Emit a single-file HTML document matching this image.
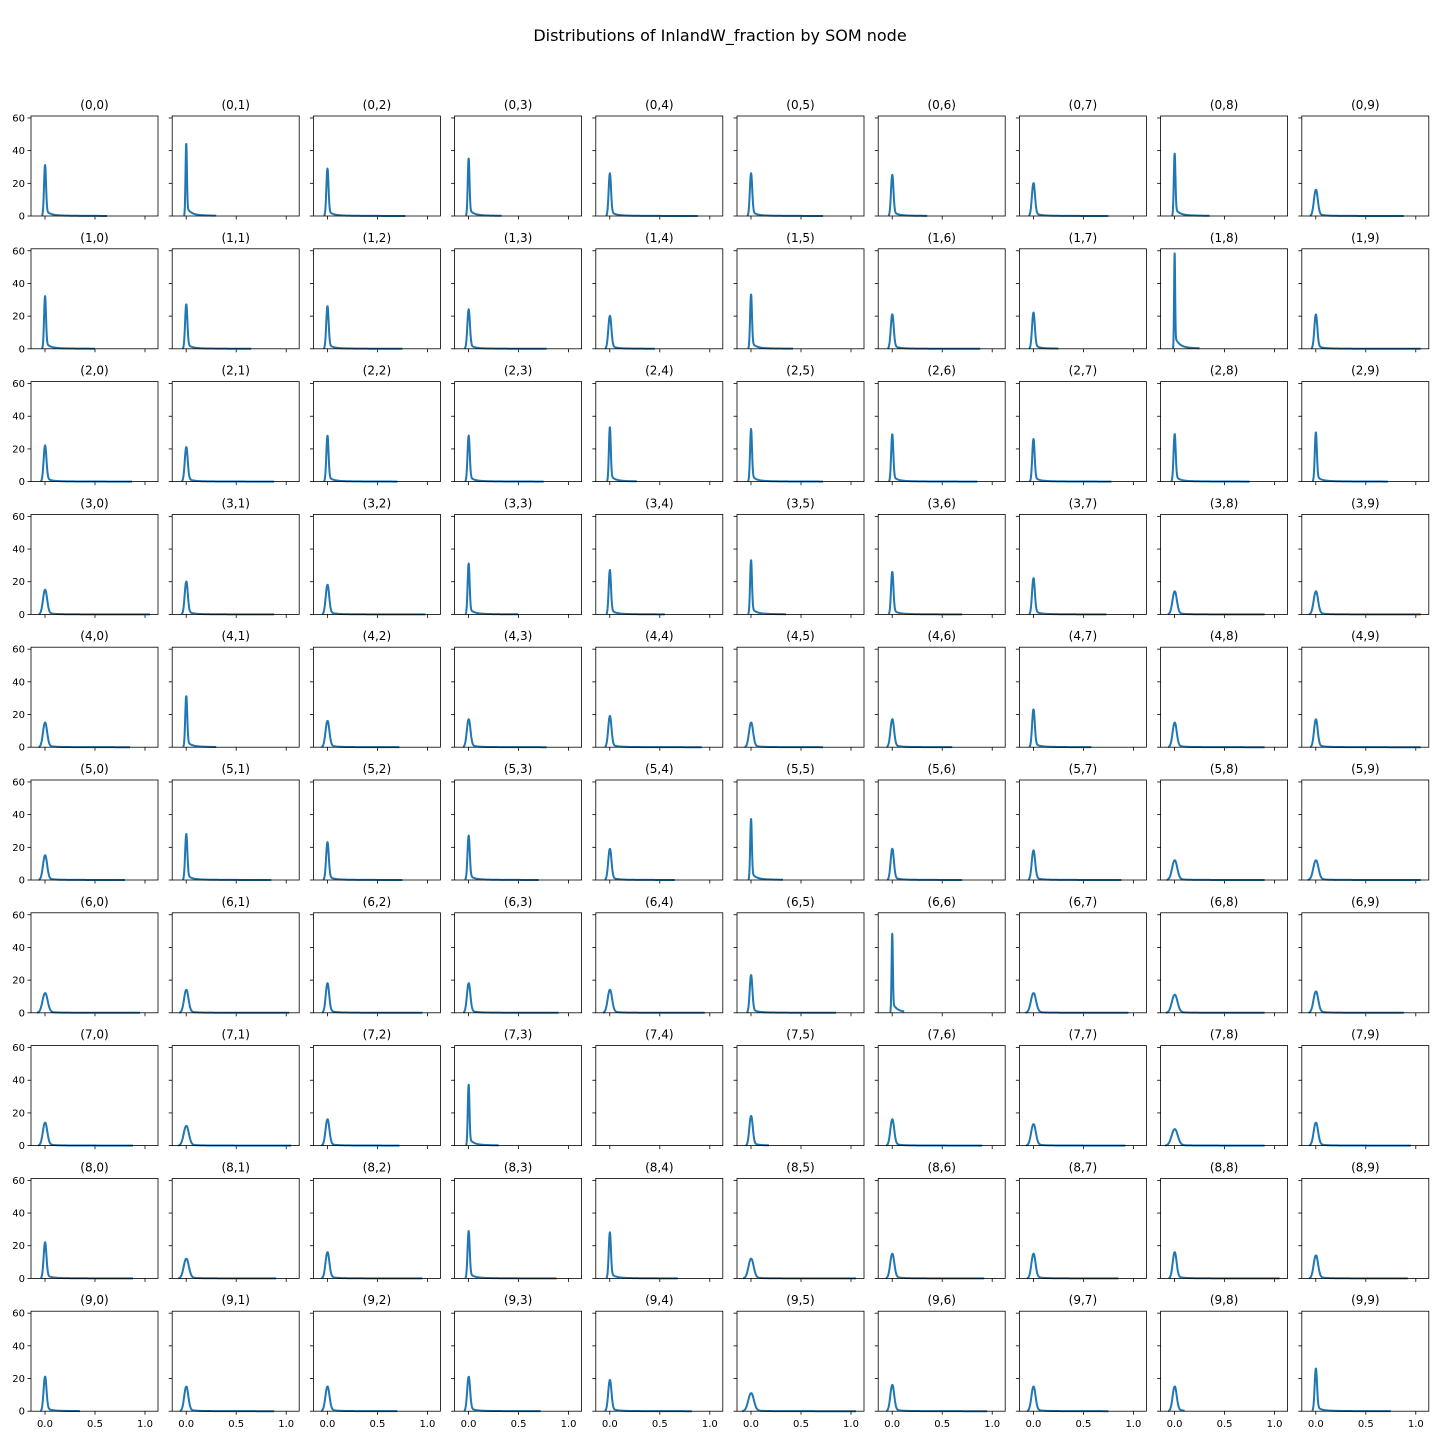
<!DOCTYPE html>
<html><head><meta charset="utf-8"><style>
body{margin:0;background:#fff;}
svg text{font-family:"DejaVu Sans","Liberation Sans",sans-serif;}
</style></head><body>
<svg id="fig" width="1440" height="1440" xmlns="http://www.w3.org/2000/svg">
<rect width="1440" height="1440" fill="#fff"/>
<text x="720" y="41" text-anchor="middle" font-size="16" fill="#000">Distributions of InlandW_fraction by SOM node</text>
</svg>
<script>
const peaks = [
 [31,44,29,35,26,26,25,20,38,16],
 [32,27,26,24,20,33,21,22,58,21],
 [22,21,28,28,33,32,29,26,29,30],
 [15,20,18,31,27,33,26,22,14,14],
 [15,31,16,17,19,15,17,23,15,17],
 [15,28,23,27,19,37,19,18,12,12],
 [12,14,18,18,14,23,48,12,11,13],
 [14,12,16,37,null,18,16,13,10,14],
 [22,12,16,29,28,12,15,15,16,14],
 [21,15,15,21,19,11,16,15,15,26]
];
const tailEnds = [
 [0.62,0.3,0.78,0.33,0.88,0.72,0.35,0.75,0.35,0.88],
 [0.5,0.65,0.75,0.78,0.45,0.42,0.88,0.25,0.25,1.05],
 [0.87,0.88,0.7,0.75,0.27,0.72,0.85,0.78,0.75,0.72],
 [1.05,0.88,0.98,0.5,0.55,0.35,0.7,0.73,0.9,1.05],
 [0.85,0.3,0.72,0.78,0.92,0.72,0.6,0.58,0.9,1.05],
 [0.8,0.85,0.75,0.7,0.65,0.32,0.7,0.88,0.9,1.05],
 [0.95,1.03,0.95,0.9,0.95,0.85,0.12,0.95,0.9,0.88],
 [0.88,1.05,0.72,0.3,0,0.18,0.9,0.92,0.9,0.95],
 [0.88,0.9,0.95,0.88,0.68,1.05,0.92,0.85,1.05,0.92],
 [0.35,0.88,0.7,0.72,0.82,1.05,0.95,0.75,0.1,0.75]
];
const yTicks = [0,20,40,60];
const xTicks = ["0.0","0.5","1.0"];
const xTickVals = [0,0.5,1];

const svg = document.getElementById('fig');
const NS = 'http://www.w3.org/2000/svg';
const X0 = 31, DX = 141.2, Y0 = 116, DY = 132.8, W = 127, H = 100;
const XMIN = -0.14, XMAX = 1.13, YMAX = 61.2;
function mk(tag, attrs){const e=document.createElementNS(NS,tag);for(const k in attrs)e.setAttribute(k,attrs[k]);return e;}

for(let r=0;r<10;r++){
 for(let c=0;c<10;c++){
  const ox = X0 + c*DX, oy = Y0 + r*DY;
  const sx = v => ox + (v - XMIN)/(XMAX-XMIN)*W;
  const sy = v => oy + H - v/YMAX*H;
  const g = mk('g',{});
  
  
  svg.appendChild(g);
  const t = mk('text',{x:ox+W/2,y:oy-7,'text-anchor':'middle','font-size':'12',fill:'#000'});
  t.textContent = '('+r+','+c+')';
  
  
  g.appendChild(t);
  // y ticks
  yTicks.forEach(v=>{
   const y = sy(v);
   g.appendChild(mk('line',{x1:ox-3.5,x2:ox,y1:y,y2:y,stroke:'#000','stroke-width':0.8}));
   if(c===0){
    const tl = mk('text',{x:ox-6,y:y+3.5,'text-anchor':'end','font-size':'10',fill:'#000'});
    tl.textContent = v;
    
    
    g.appendChild(tl);
   }
  });
  xTickVals.forEach((v,i)=>{
   const x = sx(v);
   g.appendChild(mk('line',{x1:x,x2:x,y1:oy+H,y2:oy+H+3.5,stroke:'#000','stroke-width':0.8}));
   if(r===9){
    const tl = mk('text',{x:x,y:oy+H+16,'text-anchor':'middle','font-size':'10',fill:'#000'});
    tl.textContent = xTicks[i];
    
    
    g.appendChild(tl);
   }
  });
  // curve
  const p = peaks[r][c];
  if(p!==null){
   const w = 0.3/p;
   const end = tailEnds[r][c];
   const pts=[];
   const start = -3.2*w;
   const n=220;
   for(let i=0;i<=n;i++){
    const x = start + (end-start)*i/n;
    let y = p*Math.exp(-0.5*(x/w)*(x/w));
    if(x>0) y += 0.12*p*Math.exp(-x/0.04)*(1-Math.exp(-x/w)) + 0.02*p*Math.exp(-x/0.2)*(1-Math.exp(-x/w));
    pts.push(sx(x).toFixed(2)+','+sy(y).toFixed(2));
   }
   const pl = mk('polyline',{points:pts.join(' '),fill:'none',stroke:'#1f77b4','stroke-width':2,'stroke-linejoin':'round'});
   
   
   g.appendChild(pl);
  }
  const fr = mk('rect',{x:ox,y:oy,width:W,height:H,fill:'none',stroke:'#000','stroke-width':0.8});
  
  
  g.appendChild(fr);
 }
}
</script>
</body></html>
